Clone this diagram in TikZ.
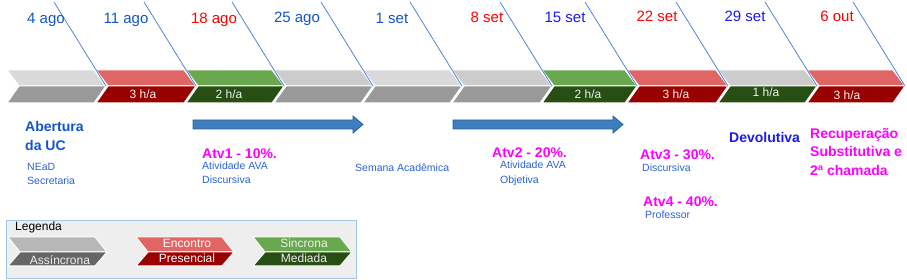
\documentclass[tikz,border=0pt]{standalone}
\usepackage{fontspec}
\setmainfont{Liberation Sans}
\usepackage{tikz}
\usetikzlibrary{positioning}
\definecolor{dateblue}{HTML}{1155CC}
\definecolor{deepblue}{HTML}{1A1AF0}
\definecolor{datered}{HTML}{FF0000}
\definecolor{noteblue}{HTML}{2A63D6}
\definecolor{grademag}{HTML}{FF00FF}
\definecolor{guideblue}{HTML}{3C78D8}
\definecolor{grayA}{HTML}{D9D9D9}
\definecolor{grayB}{HTML}{CCCCCC}
\definecolor{grayC}{HTML}{999999}
\definecolor{redA}{HTML}{E06666}
\definecolor{redB}{HTML}{990000}
\definecolor{greenA}{HTML}{6AA84F}
\definecolor{greenB}{HTML}{274E13}
\definecolor{legA}{HTML}{B7B7B7}
\definecolor{legB}{HTML}{666666}
\definecolor{legfill}{HTML}{EEEEEE}
\definecolor{legline}{HTML}{9FC5E8}
\definecolor{arrowfill}{HTML}{3D7EC0}
\definecolor{arrowline}{HTML}{2F5F8F}
% two-tone chevron: left x, tip x, top y, middle y, bottom y, top colour, bottom colour
\newcommand{\tlchevron}[7]{%
  \path[fill=#6,draw=white,line width=1pt] (#1,#3) -- (#2-12,#3) -- (#2,#4) -- (#1+12,#4) -- cycle;
  \path[fill=#7,draw=white,line width=1pt] (#1+12,#4) -- (#2,#4) -- (#2-12,#5) -- (#1,#5) -- cycle;}

\begin{document}
\begin{tikzpicture}[
  x=1pt,y=-1pt,
  every node/.style={inner sep=0pt},
  date/.style={font=\fontsize{15}{15}\selectfont},
  hours/.style={font=\fontsize{12}{12}\selectfont,text=white!95!black},
  guide/.style={draw=guideblue,line width=0.7pt},
  title/.style={font=\bfseries\fontsize{14}{18.5}\selectfont,align=left,anchor=west},
  grade/.style={font=\bfseries\fontsize{14}{14}\selectfont,text=grademag,anchor=west},
  note/.style={font=\fontsize{10.5}{14.5}\selectfont,text=noteblue,align=left,anchor=west},
  bigarrow/.style={fill=arrowfill,draw=arrowline,line width=0.8pt},
  legtext/.style={font=\fontsize{12}{12}\selectfont}
]
  \useasboundingbox (0,0) rectangle (907,280);

  % Weekly chevrons along the timeline.
  \foreach \L/\T/\ct/\cb [count=\i] in {7/106/grayA/grayC, 96/196/redA/redB, 186/284/greenA/greenB,
      274/373/grayB/grayC, 363/462/grayA/grayC, 452/552/grayB/grayC, 542/637/greenA/greenB,
      627/728/redA/redB, 718/817/grayB/greenB, 807/905/redA/redB}{
    \tlchevron{\L}{\T}{70}{86}{103}{\ct}{\cb}
    \coordinate (tip\i) at (\T,86);
    \coordinate (top\i) at (\T-52,2);
  }
  \foreach \i in {1,...,10}{\draw[guide] (top\i) -- (tip\i);}

  % Dates above the chevrons.
  \node[date,text=dateblue] (d1) at (46,20) {4 ago};
  \node[date,text=dateblue] (d2) at (126,20) {11 ago};
  \node[date,text=datered] (d3) at (214,20) {18 ago};
  \node[date,text=dateblue] (d4) at (297,19) {25 ago};
  \node[date,text=dateblue] (d5) at (392,18) {1 set};
  \node[date,text=datered] (d6) at (487,17) {8 set};
  \node[date,text=deepblue] (d7) at (565,17) {15 set};
  \node[date,text=datered] (d8) at (657,16) {22 set};
  \node[date,text=deepblue] (d9) at (745,16) {29 set};
  \node[date,text=datered] (d10) at (837,16) {6 out};

  % Workload in the lower half of the coloured chevrons.
  \node[hours] (h2) at (143,94) {3 h/a};
  \node[hours] (h3) at (229,94) {2 h/a};
  \node[hours] (h7) at (588,94) {2 h/a};
  \node[hours] (h8) at (676,94) {3 h/a};
  \node[hours] (h9) at (766,92) {1 h/a};
  \node[hours] (h10) at (847,95) {3 h/a};

  % Activity periods.
  \path[bigarrow] (193,120) -- (353,120) -- (353,116) -- (363,124.5) -- (353,133) -- (353,129) -- (193,129) -- cycle;
  \path[bigarrow] (453,120) -- (613,120) -- (613,116) -- (623,124.5) -- (613,133) -- (613,129) -- (453,129) -- cycle;

  % Events and assessments.
  \node[title,text=dateblue] (open) at (25,136) {Abertura\\da UC};
  \node[note] (openinfo) at (27,174) {NEaD\\Secretaria};
  \node[grade] (atv1) at (202,154) {Atv1 - 10\%.};
  \node[note] (atv1info) at (202,172.5) {Atividade AVA\\Discursiva};
  \node[note] (week) at (355,168) {Semana Acadêmica};
  \node[grade] (atv2) at (492,153) {Atv2 - 20\%.};
  \node[note] (atv2info) at (500,173.5) {Atividade AVA\\Objetiva};
  \node[grade] (atv3) at (640,155) {Atv3 - 30\%.};
  \node[note] (atv3info) at (642,168) {Discursiva};
  \node[grade] (atv4) at (643,202) {Atv4 - 40\%.};
  \node[note] (atv4info) at (645,215) {Professor};
  \node[title,text=deepblue] (feedback) at (729,137) {Devolutiva};
  \node[title,text=grademag] (resit) at (810,152) {Recuperação\\Substitutiva e\\2ª chamada};

  % Legend.
  \path[fill=legfill,draw=legline,line width=1pt] (6,221) rectangle (356,278);
  \node[legtext,anchor=west] (leg) at (15,227) {Legenda};
  \tlchevron{8}{107}{237}{252}{266}{legA}{legB}
  \tlchevron{136}{234}{237}{252}{266}{redA}{redB}
  \tlchevron{253}{352}{237}{252}{266}{greenA}{greenB}
  \node[legtext,text=legfill] (async) at (60,260) {Assíncrona};
  \node[legtext,text=white] (meet) at (187,243) {Encontro};
  \node[legtext,text=white] (inperson) at (187,258) {Presencial};
  \node[legtext,text=legfill] (sync) at (304,243) {Sincrona};
  \node[legtext,text=legfill] (mediated) at (304,258) {Mediada};
\end{tikzpicture}
\end{document}
